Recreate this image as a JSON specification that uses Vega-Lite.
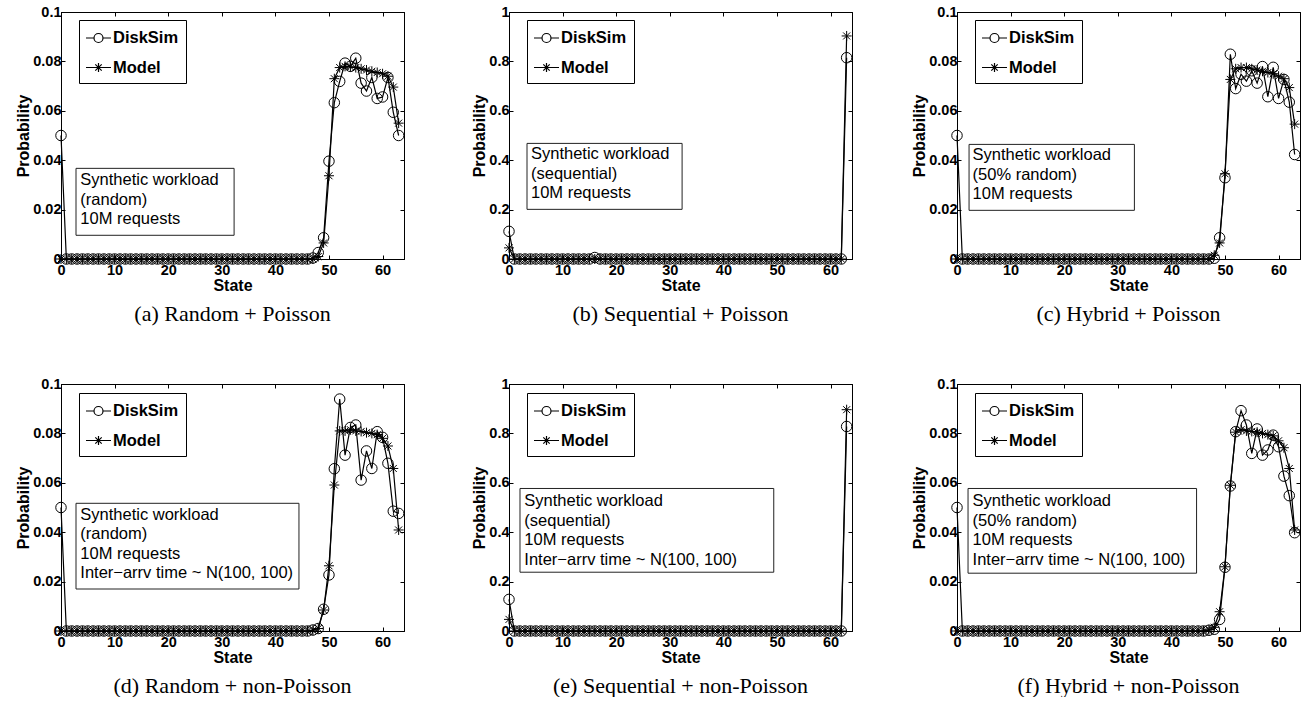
{
"$schema":"https://vega.github.io/schema/vega-lite/v6.json",
"background":"white",
"padding":{"left":15,"top":3,"right":0,"bottom":0},
"datasets":{
"a":[
{"s":0,"k":"DiskSim","v":0.05},{"s":1,"k":"DiskSim","v":0},{"s":2,"k":"DiskSim","v":0},{"s":3,"k":"DiskSim","v":0},{"s":4,"k":"DiskSim","v":0},{"s":5,"k":"DiskSim","v":0},{"s":6,"k":"DiskSim","v":0},{"s":7,"k":"DiskSim","v":0},{"s":8,"k":"DiskSim","v":0},{"s":9,"k":"DiskSim","v":0},{"s":10,"k":"DiskSim","v":0},{"s":11,"k":"DiskSim","v":0},{"s":12,"k":"DiskSim","v":0},{"s":13,"k":"DiskSim","v":0},{"s":14,"k":"DiskSim","v":0},{"s":15,"k":"DiskSim","v":0},{"s":16,"k":"DiskSim","v":0},{"s":17,"k":"DiskSim","v":0},{"s":18,"k":"DiskSim","v":0},{"s":19,"k":"DiskSim","v":0},{"s":20,"k":"DiskSim","v":0},{"s":21,"k":"DiskSim","v":0},{"s":22,"k":"DiskSim","v":0},{"s":23,"k":"DiskSim","v":0},{"s":24,"k":"DiskSim","v":0},{"s":25,"k":"DiskSim","v":0},{"s":26,"k":"DiskSim","v":0},{"s":27,"k":"DiskSim","v":0},{"s":28,"k":"DiskSim","v":0},{"s":29,"k":"DiskSim","v":0},{"s":30,"k":"DiskSim","v":0},{"s":31,"k":"DiskSim","v":0},{"s":32,"k":"DiskSim","v":0},{"s":33,"k":"DiskSim","v":0},{"s":34,"k":"DiskSim","v":0},{"s":35,"k":"DiskSim","v":0},{"s":36,"k":"DiskSim","v":0},{"s":37,"k":"DiskSim","v":0},{"s":38,"k":"DiskSim","v":0},{"s":39,"k":"DiskSim","v":0},{"s":40,"k":"DiskSim","v":0},{"s":41,"k":"DiskSim","v":0},{"s":42,"k":"DiskSim","v":0},{"s":43,"k":"DiskSim","v":0},{"s":44,"k":"DiskSim","v":0},{"s":45,"k":"DiskSim","v":0},{"s":46,"k":"DiskSim","v":0},{"s":47,"k":"DiskSim","v":0.0004},{"s":48,"k":"DiskSim","v":0.0026},{"s":49,"k":"DiskSim","v":0.0086},{"s":50,"k":"DiskSim","v":0.0396},{"s":51,"k":"DiskSim","v":0.0633},{"s":52,"k":"DiskSim","v":0.0719},{"s":53,"k":"DiskSim","v":0.0793},{"s":54,"k":"DiskSim","v":0.078},{"s":55,"k":"DiskSim","v":0.0813},{"s":56,"k":"DiskSim","v":0.0712},{"s":57,"k":"DiskSim","v":0.068},{"s":58,"k":"DiskSim","v":0.0735},{"s":59,"k":"DiskSim","v":0.065},{"s":60,"k":"DiskSim","v":0.0656},{"s":61,"k":"DiskSim","v":0.0735},{"s":62,"k":"DiskSim","v":0.0594},{"s":63,"k":"DiskSim","v":0.05},
{"s":0,"k":"Model","v":0},{"s":1,"k":"Model","v":0},{"s":2,"k":"Model","v":0},{"s":3,"k":"Model","v":0},{"s":4,"k":"Model","v":0},{"s":5,"k":"Model","v":0},{"s":6,"k":"Model","v":0},{"s":7,"k":"Model","v":0},{"s":8,"k":"Model","v":0},{"s":9,"k":"Model","v":0},{"s":10,"k":"Model","v":0},{"s":11,"k":"Model","v":0},{"s":12,"k":"Model","v":0},{"s":13,"k":"Model","v":0},{"s":14,"k":"Model","v":0},{"s":15,"k":"Model","v":0},{"s":16,"k":"Model","v":0},{"s":17,"k":"Model","v":0},{"s":18,"k":"Model","v":0},{"s":19,"k":"Model","v":0},{"s":20,"k":"Model","v":0},{"s":21,"k":"Model","v":0},{"s":22,"k":"Model","v":0},{"s":23,"k":"Model","v":0},{"s":24,"k":"Model","v":0},{"s":25,"k":"Model","v":0},{"s":26,"k":"Model","v":0},{"s":27,"k":"Model","v":0},{"s":28,"k":"Model","v":0},{"s":29,"k":"Model","v":0},{"s":30,"k":"Model","v":0},{"s":31,"k":"Model","v":0},{"s":32,"k":"Model","v":0},{"s":33,"k":"Model","v":0},{"s":34,"k":"Model","v":0},{"s":35,"k":"Model","v":0},{"s":36,"k":"Model","v":0},{"s":37,"k":"Model","v":0},{"s":38,"k":"Model","v":0},{"s":39,"k":"Model","v":0},{"s":40,"k":"Model","v":0},{"s":41,"k":"Model","v":0},{"s":42,"k":"Model","v":0},{"s":43,"k":"Model","v":0},{"s":44,"k":"Model","v":0},{"s":45,"k":"Model","v":0},{"s":46,"k":"Model","v":0},{"s":47,"k":"Model","v":0},{"s":48,"k":"Model","v":0.001},{"s":49,"k":"Model","v":0.0065},{"s":50,"k":"Model","v":0.0337},{"s":51,"k":"Model","v":0.073},{"s":52,"k":"Model","v":0.0775},{"s":53,"k":"Model","v":0.078},{"s":54,"k":"Model","v":0.0778},{"s":55,"k":"Model","v":0.0775},{"s":56,"k":"Model","v":0.077},{"s":57,"k":"Model","v":0.0765},{"s":58,"k":"Model","v":0.076},{"s":59,"k":"Model","v":0.0755},{"s":60,"k":"Model","v":0.075},{"s":61,"k":"Model","v":0.074},{"s":62,"k":"Model","v":0.0696},{"s":63,"k":"Model","v":0.055}
],
"b":[
{"s":0,"k":"DiskSim","v":0.112},{"s":1,"k":"DiskSim","v":0},{"s":2,"k":"DiskSim","v":0},{"s":3,"k":"DiskSim","v":0},{"s":4,"k":"DiskSim","v":0},{"s":5,"k":"DiskSim","v":0},{"s":6,"k":"DiskSim","v":0},{"s":7,"k":"DiskSim","v":0},{"s":8,"k":"DiskSim","v":0},{"s":9,"k":"DiskSim","v":0},{"s":10,"k":"DiskSim","v":0},{"s":11,"k":"DiskSim","v":0},{"s":12,"k":"DiskSim","v":0},{"s":13,"k":"DiskSim","v":0},{"s":14,"k":"DiskSim","v":0},{"s":15,"k":"DiskSim","v":0},{"s":16,"k":"DiskSim","v":0.006},{"s":17,"k":"DiskSim","v":0},{"s":18,"k":"DiskSim","v":0},{"s":19,"k":"DiskSim","v":0},{"s":20,"k":"DiskSim","v":0},{"s":21,"k":"DiskSim","v":0},{"s":22,"k":"DiskSim","v":0},{"s":23,"k":"DiskSim","v":0},{"s":24,"k":"DiskSim","v":0},{"s":25,"k":"DiskSim","v":0},{"s":26,"k":"DiskSim","v":0},{"s":27,"k":"DiskSim","v":0},{"s":28,"k":"DiskSim","v":0},{"s":29,"k":"DiskSim","v":0},{"s":30,"k":"DiskSim","v":0},{"s":31,"k":"DiskSim","v":0},{"s":32,"k":"DiskSim","v":0},{"s":33,"k":"DiskSim","v":0},{"s":34,"k":"DiskSim","v":0},{"s":35,"k":"DiskSim","v":0},{"s":36,"k":"DiskSim","v":0},{"s":37,"k":"DiskSim","v":0},{"s":38,"k":"DiskSim","v":0},{"s":39,"k":"DiskSim","v":0},{"s":40,"k":"DiskSim","v":0},{"s":41,"k":"DiskSim","v":0},{"s":42,"k":"DiskSim","v":0},{"s":43,"k":"DiskSim","v":0},{"s":44,"k":"DiskSim","v":0},{"s":45,"k":"DiskSim","v":0},{"s":46,"k":"DiskSim","v":0},{"s":47,"k":"DiskSim","v":0},{"s":48,"k":"DiskSim","v":0},{"s":49,"k":"DiskSim","v":0},{"s":50,"k":"DiskSim","v":0},{"s":51,"k":"DiskSim","v":0},{"s":52,"k":"DiskSim","v":0},{"s":53,"k":"DiskSim","v":0},{"s":54,"k":"DiskSim","v":0},{"s":55,"k":"DiskSim","v":0},{"s":56,"k":"DiskSim","v":0},{"s":57,"k":"DiskSim","v":0},{"s":58,"k":"DiskSim","v":0},{"s":59,"k":"DiskSim","v":0},{"s":60,"k":"DiskSim","v":0},{"s":61,"k":"DiskSim","v":0},{"s":62,"k":"DiskSim","v":0},{"s":63,"k":"DiskSim","v":0.815},
{"s":0,"k":"Model","v":0.045},{"s":1,"k":"Model","v":0},{"s":2,"k":"Model","v":0},{"s":3,"k":"Model","v":0},{"s":4,"k":"Model","v":0},{"s":5,"k":"Model","v":0},{"s":6,"k":"Model","v":0},{"s":7,"k":"Model","v":0},{"s":8,"k":"Model","v":0},{"s":9,"k":"Model","v":0},{"s":10,"k":"Model","v":0},{"s":11,"k":"Model","v":0},{"s":12,"k":"Model","v":0},{"s":13,"k":"Model","v":0},{"s":14,"k":"Model","v":0},{"s":15,"k":"Model","v":0},{"s":16,"k":"Model","v":0},{"s":17,"k":"Model","v":0},{"s":18,"k":"Model","v":0},{"s":19,"k":"Model","v":0},{"s":20,"k":"Model","v":0},{"s":21,"k":"Model","v":0},{"s":22,"k":"Model","v":0},{"s":23,"k":"Model","v":0},{"s":24,"k":"Model","v":0},{"s":25,"k":"Model","v":0},{"s":26,"k":"Model","v":0},{"s":27,"k":"Model","v":0},{"s":28,"k":"Model","v":0},{"s":29,"k":"Model","v":0},{"s":30,"k":"Model","v":0},{"s":31,"k":"Model","v":0},{"s":32,"k":"Model","v":0},{"s":33,"k":"Model","v":0},{"s":34,"k":"Model","v":0},{"s":35,"k":"Model","v":0},{"s":36,"k":"Model","v":0},{"s":37,"k":"Model","v":0},{"s":38,"k":"Model","v":0},{"s":39,"k":"Model","v":0},{"s":40,"k":"Model","v":0},{"s":41,"k":"Model","v":0},{"s":42,"k":"Model","v":0},{"s":43,"k":"Model","v":0},{"s":44,"k":"Model","v":0},{"s":45,"k":"Model","v":0},{"s":46,"k":"Model","v":0},{"s":47,"k":"Model","v":0},{"s":48,"k":"Model","v":0},{"s":49,"k":"Model","v":0},{"s":50,"k":"Model","v":0},{"s":51,"k":"Model","v":0},{"s":52,"k":"Model","v":0},{"s":53,"k":"Model","v":0},{"s":54,"k":"Model","v":0},{"s":55,"k":"Model","v":0},{"s":56,"k":"Model","v":0},{"s":57,"k":"Model","v":0},{"s":58,"k":"Model","v":0},{"s":59,"k":"Model","v":0},{"s":60,"k":"Model","v":0},{"s":61,"k":"Model","v":0},{"s":62,"k":"Model","v":0},{"s":63,"k":"Model","v":0.903}
],
"c":[
{"s":0,"k":"DiskSim","v":0.05},{"s":1,"k":"DiskSim","v":0},{"s":2,"k":"DiskSim","v":0},{"s":3,"k":"DiskSim","v":0},{"s":4,"k":"DiskSim","v":0},{"s":5,"k":"DiskSim","v":0},{"s":6,"k":"DiskSim","v":0},{"s":7,"k":"DiskSim","v":0},{"s":8,"k":"DiskSim","v":0},{"s":9,"k":"DiskSim","v":0},{"s":10,"k":"DiskSim","v":0},{"s":11,"k":"DiskSim","v":0},{"s":12,"k":"DiskSim","v":0},{"s":13,"k":"DiskSim","v":0},{"s":14,"k":"DiskSim","v":0},{"s":15,"k":"DiskSim","v":0},{"s":16,"k":"DiskSim","v":0},{"s":17,"k":"DiskSim","v":0},{"s":18,"k":"DiskSim","v":0},{"s":19,"k":"DiskSim","v":0},{"s":20,"k":"DiskSim","v":0},{"s":21,"k":"DiskSim","v":0},{"s":22,"k":"DiskSim","v":0},{"s":23,"k":"DiskSim","v":0},{"s":24,"k":"DiskSim","v":0},{"s":25,"k":"DiskSim","v":0},{"s":26,"k":"DiskSim","v":0},{"s":27,"k":"DiskSim","v":0},{"s":28,"k":"DiskSim","v":0},{"s":29,"k":"DiskSim","v":0},{"s":30,"k":"DiskSim","v":0},{"s":31,"k":"DiskSim","v":0},{"s":32,"k":"DiskSim","v":0},{"s":33,"k":"DiskSim","v":0},{"s":34,"k":"DiskSim","v":0},{"s":35,"k":"DiskSim","v":0},{"s":36,"k":"DiskSim","v":0},{"s":37,"k":"DiskSim","v":0},{"s":38,"k":"DiskSim","v":0},{"s":39,"k":"DiskSim","v":0},{"s":40,"k":"DiskSim","v":0},{"s":41,"k":"DiskSim","v":0},{"s":42,"k":"DiskSim","v":0},{"s":43,"k":"DiskSim","v":0},{"s":44,"k":"DiskSim","v":0},{"s":45,"k":"DiskSim","v":0},{"s":46,"k":"DiskSim","v":0},{"s":47,"k":"DiskSim","v":0},{"s":48,"k":"DiskSim","v":0.0003},{"s":49,"k":"DiskSim","v":0.0086},{"s":50,"k":"DiskSim","v":0.0329},{"s":51,"k":"DiskSim","v":0.0829},{"s":52,"k":"DiskSim","v":0.069},{"s":53,"k":"DiskSim","v":0.0748},{"s":54,"k":"DiskSim","v":0.072},{"s":55,"k":"DiskSim","v":0.0762},{"s":56,"k":"DiskSim","v":0.0712},{"s":57,"k":"DiskSim","v":0.0779},{"s":58,"k":"DiskSim","v":0.0657},{"s":59,"k":"DiskSim","v":0.0776},{"s":60,"k":"DiskSim","v":0.065},{"s":61,"k":"DiskSim","v":0.0727},{"s":62,"k":"DiskSim","v":0.0635},{"s":63,"k":"DiskSim","v":0.0423},
{"s":0,"k":"Model","v":0},{"s":1,"k":"Model","v":0},{"s":2,"k":"Model","v":0},{"s":3,"k":"Model","v":0},{"s":4,"k":"Model","v":0},{"s":5,"k":"Model","v":0},{"s":6,"k":"Model","v":0},{"s":7,"k":"Model","v":0},{"s":8,"k":"Model","v":0},{"s":9,"k":"Model","v":0},{"s":10,"k":"Model","v":0},{"s":11,"k":"Model","v":0},{"s":12,"k":"Model","v":0},{"s":13,"k":"Model","v":0},{"s":14,"k":"Model","v":0},{"s":15,"k":"Model","v":0},{"s":16,"k":"Model","v":0},{"s":17,"k":"Model","v":0},{"s":18,"k":"Model","v":0},{"s":19,"k":"Model","v":0},{"s":20,"k":"Model","v":0},{"s":21,"k":"Model","v":0},{"s":22,"k":"Model","v":0},{"s":23,"k":"Model","v":0},{"s":24,"k":"Model","v":0},{"s":25,"k":"Model","v":0},{"s":26,"k":"Model","v":0},{"s":27,"k":"Model","v":0},{"s":28,"k":"Model","v":0},{"s":29,"k":"Model","v":0},{"s":30,"k":"Model","v":0},{"s":31,"k":"Model","v":0},{"s":32,"k":"Model","v":0},{"s":33,"k":"Model","v":0},{"s":34,"k":"Model","v":0},{"s":35,"k":"Model","v":0},{"s":36,"k":"Model","v":0},{"s":37,"k":"Model","v":0},{"s":38,"k":"Model","v":0},{"s":39,"k":"Model","v":0},{"s":40,"k":"Model","v":0},{"s":41,"k":"Model","v":0},{"s":42,"k":"Model","v":0},{"s":43,"k":"Model","v":0},{"s":44,"k":"Model","v":0},{"s":45,"k":"Model","v":0},{"s":46,"k":"Model","v":0},{"s":47,"k":"Model","v":0},{"s":48,"k":"Model","v":0.0015},{"s":49,"k":"Model","v":0.0065},{"s":50,"k":"Model","v":0.0345},{"s":51,"k":"Model","v":0.0727},{"s":52,"k":"Model","v":0.077},{"s":53,"k":"Model","v":0.0775},{"s":54,"k":"Model","v":0.0775},{"s":55,"k":"Model","v":0.077},{"s":56,"k":"Model","v":0.0765},{"s":57,"k":"Model","v":0.076},{"s":58,"k":"Model","v":0.0755},{"s":59,"k":"Model","v":0.075},{"s":60,"k":"Model","v":0.074},{"s":61,"k":"Model","v":0.073},{"s":62,"k":"Model","v":0.0694},{"s":63,"k":"Model","v":0.0546}
],
"d":[
{"s":0,"k":"DiskSim","v":0.05},{"s":1,"k":"DiskSim","v":0},{"s":2,"k":"DiskSim","v":0},{"s":3,"k":"DiskSim","v":0},{"s":4,"k":"DiskSim","v":0},{"s":5,"k":"DiskSim","v":0},{"s":6,"k":"DiskSim","v":0},{"s":7,"k":"DiskSim","v":0},{"s":8,"k":"DiskSim","v":0},{"s":9,"k":"DiskSim","v":0},{"s":10,"k":"DiskSim","v":0},{"s":11,"k":"DiskSim","v":0},{"s":12,"k":"DiskSim","v":0},{"s":13,"k":"DiskSim","v":0},{"s":14,"k":"DiskSim","v":0},{"s":15,"k":"DiskSim","v":0},{"s":16,"k":"DiskSim","v":0},{"s":17,"k":"DiskSim","v":0},{"s":18,"k":"DiskSim","v":0},{"s":19,"k":"DiskSim","v":0},{"s":20,"k":"DiskSim","v":0},{"s":21,"k":"DiskSim","v":0},{"s":22,"k":"DiskSim","v":0},{"s":23,"k":"DiskSim","v":0},{"s":24,"k":"DiskSim","v":0},{"s":25,"k":"DiskSim","v":0},{"s":26,"k":"DiskSim","v":0},{"s":27,"k":"DiskSim","v":0},{"s":28,"k":"DiskSim","v":0},{"s":29,"k":"DiskSim","v":0},{"s":30,"k":"DiskSim","v":0},{"s":31,"k":"DiskSim","v":0},{"s":32,"k":"DiskSim","v":0},{"s":33,"k":"DiskSim","v":0},{"s":34,"k":"DiskSim","v":0},{"s":35,"k":"DiskSim","v":0},{"s":36,"k":"DiskSim","v":0},{"s":37,"k":"DiskSim","v":0},{"s":38,"k":"DiskSim","v":0},{"s":39,"k":"DiskSim","v":0},{"s":40,"k":"DiskSim","v":0},{"s":41,"k":"DiskSim","v":0},{"s":42,"k":"DiskSim","v":0},{"s":43,"k":"DiskSim","v":0},{"s":44,"k":"DiskSim","v":0},{"s":45,"k":"DiskSim","v":0},{"s":46,"k":"DiskSim","v":0},{"s":47,"k":"DiskSim","v":0.0004},{"s":48,"k":"DiskSim","v":0.001},{"s":49,"k":"DiskSim","v":0.0088},{"s":50,"k":"DiskSim","v":0.0227},{"s":51,"k":"DiskSim","v":0.0657},{"s":52,"k":"DiskSim","v":0.0939},{"s":53,"k":"DiskSim","v":0.0712},{"s":54,"k":"DiskSim","v":0.0824},{"s":55,"k":"DiskSim","v":0.0834},{"s":56,"k":"DiskSim","v":0.0611},{"s":57,"k":"DiskSim","v":0.0729},{"s":58,"k":"DiskSim","v":0.0658},{"s":59,"k":"DiskSim","v":0.0807},{"s":60,"k":"DiskSim","v":0.0784},{"s":61,"k":"DiskSim","v":0.0679},{"s":62,"k":"DiskSim","v":0.0485},{"s":63,"k":"DiskSim","v":0.0476},
{"s":0,"k":"Model","v":0},{"s":1,"k":"Model","v":0},{"s":2,"k":"Model","v":0},{"s":3,"k":"Model","v":0},{"s":4,"k":"Model","v":0},{"s":5,"k":"Model","v":0},{"s":6,"k":"Model","v":0},{"s":7,"k":"Model","v":0},{"s":8,"k":"Model","v":0},{"s":9,"k":"Model","v":0},{"s":10,"k":"Model","v":0},{"s":11,"k":"Model","v":0},{"s":12,"k":"Model","v":0},{"s":13,"k":"Model","v":0},{"s":14,"k":"Model","v":0},{"s":15,"k":"Model","v":0},{"s":16,"k":"Model","v":0},{"s":17,"k":"Model","v":0},{"s":18,"k":"Model","v":0},{"s":19,"k":"Model","v":0},{"s":20,"k":"Model","v":0},{"s":21,"k":"Model","v":0},{"s":22,"k":"Model","v":0},{"s":23,"k":"Model","v":0},{"s":24,"k":"Model","v":0},{"s":25,"k":"Model","v":0},{"s":26,"k":"Model","v":0},{"s":27,"k":"Model","v":0},{"s":28,"k":"Model","v":0},{"s":29,"k":"Model","v":0},{"s":30,"k":"Model","v":0},{"s":31,"k":"Model","v":0},{"s":32,"k":"Model","v":0},{"s":33,"k":"Model","v":0},{"s":34,"k":"Model","v":0},{"s":35,"k":"Model","v":0},{"s":36,"k":"Model","v":0},{"s":37,"k":"Model","v":0},{"s":38,"k":"Model","v":0},{"s":39,"k":"Model","v":0},{"s":40,"k":"Model","v":0},{"s":41,"k":"Model","v":0},{"s":42,"k":"Model","v":0},{"s":43,"k":"Model","v":0},{"s":44,"k":"Model","v":0},{"s":45,"k":"Model","v":0},{"s":46,"k":"Model","v":0},{"s":47,"k":"Model","v":0.0003},{"s":48,"k":"Model","v":0.001},{"s":49,"k":"Model","v":0.0085},{"s":50,"k":"Model","v":0.0264},{"s":51,"k":"Model","v":0.0591},{"s":52,"k":"Model","v":0.081},{"s":53,"k":"Model","v":0.081},{"s":54,"k":"Model","v":0.0815},{"s":55,"k":"Model","v":0.081},{"s":56,"k":"Model","v":0.0808},{"s":57,"k":"Model","v":0.0803},{"s":58,"k":"Model","v":0.08},{"s":59,"k":"Model","v":0.0795},{"s":60,"k":"Model","v":0.078},{"s":61,"k":"Model","v":0.0749},{"s":62,"k":"Model","v":0.0658},{"s":63,"k":"Model","v":0.0409}
],
"e":[
{"s":0,"k":"DiskSim","v":0.128},{"s":1,"k":"DiskSim","v":0},{"s":2,"k":"DiskSim","v":0},{"s":3,"k":"DiskSim","v":0},{"s":4,"k":"DiskSim","v":0},{"s":5,"k":"DiskSim","v":0},{"s":6,"k":"DiskSim","v":0},{"s":7,"k":"DiskSim","v":0},{"s":8,"k":"DiskSim","v":0},{"s":9,"k":"DiskSim","v":0},{"s":10,"k":"DiskSim","v":0},{"s":11,"k":"DiskSim","v":0},{"s":12,"k":"DiskSim","v":0},{"s":13,"k":"DiskSim","v":0},{"s":14,"k":"DiskSim","v":0},{"s":15,"k":"DiskSim","v":0},{"s":16,"k":"DiskSim","v":0},{"s":17,"k":"DiskSim","v":0},{"s":18,"k":"DiskSim","v":0},{"s":19,"k":"DiskSim","v":0},{"s":20,"k":"DiskSim","v":0},{"s":21,"k":"DiskSim","v":0},{"s":22,"k":"DiskSim","v":0},{"s":23,"k":"DiskSim","v":0},{"s":24,"k":"DiskSim","v":0},{"s":25,"k":"DiskSim","v":0},{"s":26,"k":"DiskSim","v":0},{"s":27,"k":"DiskSim","v":0},{"s":28,"k":"DiskSim","v":0},{"s":29,"k":"DiskSim","v":0},{"s":30,"k":"DiskSim","v":0},{"s":31,"k":"DiskSim","v":0},{"s":32,"k":"DiskSim","v":0},{"s":33,"k":"DiskSim","v":0},{"s":34,"k":"DiskSim","v":0},{"s":35,"k":"DiskSim","v":0},{"s":36,"k":"DiskSim","v":0},{"s":37,"k":"DiskSim","v":0},{"s":38,"k":"DiskSim","v":0},{"s":39,"k":"DiskSim","v":0},{"s":40,"k":"DiskSim","v":0},{"s":41,"k":"DiskSim","v":0},{"s":42,"k":"DiskSim","v":0},{"s":43,"k":"DiskSim","v":0},{"s":44,"k":"DiskSim","v":0},{"s":45,"k":"DiskSim","v":0},{"s":46,"k":"DiskSim","v":0},{"s":47,"k":"DiskSim","v":0},{"s":48,"k":"DiskSim","v":0},{"s":49,"k":"DiskSim","v":0},{"s":50,"k":"DiskSim","v":0},{"s":51,"k":"DiskSim","v":0},{"s":52,"k":"DiskSim","v":0},{"s":53,"k":"DiskSim","v":0},{"s":54,"k":"DiskSim","v":0},{"s":55,"k":"DiskSim","v":0},{"s":56,"k":"DiskSim","v":0},{"s":57,"k":"DiskSim","v":0},{"s":58,"k":"DiskSim","v":0},{"s":59,"k":"DiskSim","v":0},{"s":60,"k":"DiskSim","v":0},{"s":61,"k":"DiskSim","v":0},{"s":62,"k":"DiskSim","v":0},{"s":63,"k":"DiskSim","v":0.828},
{"s":0,"k":"Model","v":0.047},{"s":1,"k":"Model","v":0},{"s":2,"k":"Model","v":0},{"s":3,"k":"Model","v":0},{"s":4,"k":"Model","v":0},{"s":5,"k":"Model","v":0},{"s":6,"k":"Model","v":0},{"s":7,"k":"Model","v":0},{"s":8,"k":"Model","v":0},{"s":9,"k":"Model","v":0},{"s":10,"k":"Model","v":0},{"s":11,"k":"Model","v":0},{"s":12,"k":"Model","v":0},{"s":13,"k":"Model","v":0},{"s":14,"k":"Model","v":0},{"s":15,"k":"Model","v":0},{"s":16,"k":"Model","v":0},{"s":17,"k":"Model","v":0},{"s":18,"k":"Model","v":0},{"s":19,"k":"Model","v":0},{"s":20,"k":"Model","v":0},{"s":21,"k":"Model","v":0},{"s":22,"k":"Model","v":0},{"s":23,"k":"Model","v":0},{"s":24,"k":"Model","v":0},{"s":25,"k":"Model","v":0},{"s":26,"k":"Model","v":0},{"s":27,"k":"Model","v":0},{"s":28,"k":"Model","v":0},{"s":29,"k":"Model","v":0},{"s":30,"k":"Model","v":0},{"s":31,"k":"Model","v":0},{"s":32,"k":"Model","v":0},{"s":33,"k":"Model","v":0},{"s":34,"k":"Model","v":0},{"s":35,"k":"Model","v":0},{"s":36,"k":"Model","v":0},{"s":37,"k":"Model","v":0},{"s":38,"k":"Model","v":0},{"s":39,"k":"Model","v":0},{"s":40,"k":"Model","v":0},{"s":41,"k":"Model","v":0},{"s":42,"k":"Model","v":0},{"s":43,"k":"Model","v":0},{"s":44,"k":"Model","v":0},{"s":45,"k":"Model","v":0},{"s":46,"k":"Model","v":0},{"s":47,"k":"Model","v":0},{"s":48,"k":"Model","v":0},{"s":49,"k":"Model","v":0},{"s":50,"k":"Model","v":0},{"s":51,"k":"Model","v":0},{"s":52,"k":"Model","v":0},{"s":53,"k":"Model","v":0},{"s":54,"k":"Model","v":0},{"s":55,"k":"Model","v":0},{"s":56,"k":"Model","v":0},{"s":57,"k":"Model","v":0},{"s":58,"k":"Model","v":0},{"s":59,"k":"Model","v":0},{"s":60,"k":"Model","v":0},{"s":61,"k":"Model","v":0},{"s":62,"k":"Model","v":0},{"s":63,"k":"Model","v":0.896}
],
"f":[
{"s":0,"k":"DiskSim","v":0.05},{"s":1,"k":"DiskSim","v":0},{"s":2,"k":"DiskSim","v":0},{"s":3,"k":"DiskSim","v":0},{"s":4,"k":"DiskSim","v":0},{"s":5,"k":"DiskSim","v":0},{"s":6,"k":"DiskSim","v":0},{"s":7,"k":"DiskSim","v":0},{"s":8,"k":"DiskSim","v":0},{"s":9,"k":"DiskSim","v":0},{"s":10,"k":"DiskSim","v":0},{"s":11,"k":"DiskSim","v":0},{"s":12,"k":"DiskSim","v":0},{"s":13,"k":"DiskSim","v":0},{"s":14,"k":"DiskSim","v":0},{"s":15,"k":"DiskSim","v":0},{"s":16,"k":"DiskSim","v":0},{"s":17,"k":"DiskSim","v":0},{"s":18,"k":"DiskSim","v":0},{"s":19,"k":"DiskSim","v":0},{"s":20,"k":"DiskSim","v":0},{"s":21,"k":"DiskSim","v":0},{"s":22,"k":"DiskSim","v":0},{"s":23,"k":"DiskSim","v":0},{"s":24,"k":"DiskSim","v":0},{"s":25,"k":"DiskSim","v":0},{"s":26,"k":"DiskSim","v":0},{"s":27,"k":"DiskSim","v":0},{"s":28,"k":"DiskSim","v":0},{"s":29,"k":"DiskSim","v":0},{"s":30,"k":"DiskSim","v":0},{"s":31,"k":"DiskSim","v":0},{"s":32,"k":"DiskSim","v":0},{"s":33,"k":"DiskSim","v":0},{"s":34,"k":"DiskSim","v":0},{"s":35,"k":"DiskSim","v":0},{"s":36,"k":"DiskSim","v":0},{"s":37,"k":"DiskSim","v":0},{"s":38,"k":"DiskSim","v":0},{"s":39,"k":"DiskSim","v":0},{"s":40,"k":"DiskSim","v":0},{"s":41,"k":"DiskSim","v":0},{"s":42,"k":"DiskSim","v":0},{"s":43,"k":"DiskSim","v":0},{"s":44,"k":"DiskSim","v":0},{"s":45,"k":"DiskSim","v":0},{"s":46,"k":"DiskSim","v":0},{"s":47,"k":"DiskSim","v":0.0003},{"s":48,"k":"DiskSim","v":0.0007},{"s":49,"k":"DiskSim","v":0.0047},{"s":50,"k":"DiskSim","v":0.0258},{"s":51,"k":"DiskSim","v":0.0587},{"s":52,"k":"DiskSim","v":0.0807},{"s":53,"k":"DiskSim","v":0.0892},{"s":54,"k":"DiskSim","v":0.0834},{"s":55,"k":"DiskSim","v":0.0719},{"s":56,"k":"DiskSim","v":0.0818},{"s":57,"k":"DiskSim","v":0.0712},{"s":58,"k":"DiskSim","v":0.0733},{"s":59,"k":"DiskSim","v":0.0793},{"s":60,"k":"DiskSim","v":0.0746},{"s":61,"k":"DiskSim","v":0.0627},{"s":62,"k":"DiskSim","v":0.0548},{"s":63,"k":"DiskSim","v":0.0398},
{"s":0,"k":"Model","v":0},{"s":1,"k":"Model","v":0},{"s":2,"k":"Model","v":0},{"s":3,"k":"Model","v":0},{"s":4,"k":"Model","v":0},{"s":5,"k":"Model","v":0},{"s":6,"k":"Model","v":0},{"s":7,"k":"Model","v":0},{"s":8,"k":"Model","v":0},{"s":9,"k":"Model","v":0},{"s":10,"k":"Model","v":0},{"s":11,"k":"Model","v":0},{"s":12,"k":"Model","v":0},{"s":13,"k":"Model","v":0},{"s":14,"k":"Model","v":0},{"s":15,"k":"Model","v":0},{"s":16,"k":"Model","v":0},{"s":17,"k":"Model","v":0},{"s":18,"k":"Model","v":0},{"s":19,"k":"Model","v":0},{"s":20,"k":"Model","v":0},{"s":21,"k":"Model","v":0},{"s":22,"k":"Model","v":0},{"s":23,"k":"Model","v":0},{"s":24,"k":"Model","v":0},{"s":25,"k":"Model","v":0},{"s":26,"k":"Model","v":0},{"s":27,"k":"Model","v":0},{"s":28,"k":"Model","v":0},{"s":29,"k":"Model","v":0},{"s":30,"k":"Model","v":0},{"s":31,"k":"Model","v":0},{"s":32,"k":"Model","v":0},{"s":33,"k":"Model","v":0},{"s":34,"k":"Model","v":0},{"s":35,"k":"Model","v":0},{"s":36,"k":"Model","v":0},{"s":37,"k":"Model","v":0},{"s":38,"k":"Model","v":0},{"s":39,"k":"Model","v":0},{"s":40,"k":"Model","v":0},{"s":41,"k":"Model","v":0},{"s":42,"k":"Model","v":0},{"s":43,"k":"Model","v":0},{"s":44,"k":"Model","v":0},{"s":45,"k":"Model","v":0},{"s":46,"k":"Model","v":0},{"s":47,"k":"Model","v":0.0005},{"s":48,"k":"Model","v":0.0015},{"s":49,"k":"Model","v":0.0078},{"s":50,"k":"Model","v":0.026},{"s":51,"k":"Model","v":0.059},{"s":52,"k":"Model","v":0.0805},{"s":53,"k":"Model","v":0.0815},{"s":54,"k":"Model","v":0.081},{"s":55,"k":"Model","v":0.0808},{"s":56,"k":"Model","v":0.0805},{"s":57,"k":"Model","v":0.08},{"s":58,"k":"Model","v":0.0795},{"s":59,"k":"Model","v":0.079},{"s":60,"k":"Model","v":0.077},{"s":61,"k":"Model","v":0.0742},{"s":62,"k":"Model","v":0.0658},{"s":63,"k":"Model","v":0.0409}
]
},
"columns":3,
"spacing":{"row":125,"column":105},
"bounds":"flush",
"concat":[
{"width":343,"height":247,"data":{"name":"a"},"title":{"text":"(a) Random + Poisson"},
"layer":[
{"mark":{"type":"line","color":"black","strokeWidth":1.2},"encoding":{"x":{"field":"s","type":"quantitative","scale":{"domain":[0,64],"nice":false},"axis":{"values":[0,10,20,30,40,50,60],"title":"State"}},"y":{"field":"v","type":"quantitative","scale":{"domain":[0,0.1],"nice":false},"axis":{"values":[0,0.02,0.04,0.06,0.08,0.1],"format":"~g","title":"Probability"}},"detail":{"field":"k","type":"nominal"}}},
{"transform":[{"filter":"datum.k === 'DiskSim'"}],"mark":{"type":"point","shape":"circle","color":"black","filled":false,"strokeWidth":1,"size":110,"opacity":1},"encoding":{"x":{"field":"s","type":"quantitative","axis":{"orient":"top","labels":false,"title":null,"values":[0,10,20,30,40,50,60]}},"y":{"field":"v","type":"quantitative","axis":{"orient":"right","labels":false,"title":null,"values":[0,0.02,0.04,0.06,0.08,0.1]}}}},
{"transform":[{"filter":"datum.k === 'Model'"}],"mark":{"type":"point","shape":"M0,-1L0,1M-1,0L1,0M-0.7,-0.7L0.7,0.7M-0.7,0.7L0.7,-0.7","color":"black","filled":false,"strokeWidth":1,"size":100,"opacity":1},"encoding":{"x":{"field":"s","type":"quantitative","axis":null},"y":{"field":"v","type":"quantitative","axis":null}}},
{"transform":[{"filter":"datum.s === 0"}],"mark":{"type":"point","color":"black","filled":false,"opacity":0},"encoding":{"x":{"field":"s","type":"quantitative","axis":null},"y":{"field":"v","type":"quantitative","axis":null},"shape":{"field":"k","type":"nominal","scale":{"domain":["DiskSim","Model"],"range":["M-1.1,0L-0.3,0M0.6,0L1.4,0M0.6,0A0.45,0.45,0,1,1,-0.3,0A0.45,0.45,0,1,1,0.6,0","M-1.1,0L1.4,0M0.15,-0.45L0.15,0.45M-0.17,-0.32L0.47,0.32M-0.17,0.32L0.47,-0.32"]},"legend":{"title":null,"legendX":18,"legendY":8,"symbolOpacity":1,"labelFont":"Liberation Sans","labelFontSize":16.5,"labelFontWeight":"bold","labelColor":"black","labelOffset":5,"padding":7,"rowPadding":9.5,"symbolSize":400,"symbolStrokeWidth":1.2,"symbolStrokeColor":"black","strokeColor":"black","fillColor":"white"}}}},
{"data":{"values":[{}]},"mark":{"type":"rect","fill":"white","stroke":"#222","strokeWidth":1},"encoding":{"x":{"datum":2.8,"type":"quantitative","axis":null},"x2":{"datum":32.3},"y":{"datum":0.0367,"type":"quantitative","axis":null},"y2":{"datum":0.0096}}},
{"data":{"values":[{}]},"mark":{"type":"text","text":["Synthetic workload","(random)","10M requests"],"align":"left","baseline":"top","font":"Liberation Sans","fontSize":16.5,"lineHeight":19.5,"color":"black"},"encoding":{"x":{"datum":3.6,"type":"quantitative","axis":null},"y":{"datum":0.0351,"type":"quantitative","axis":null}}}
],
"resolve":{"axis":{"x":"independent","y":"independent"}}},
{"width":343,"height":247,"data":{"name":"b"},"title":{"text":"(b) Sequential + Poisson"},
"layer":[
{"mark":{"type":"line","color":"black","strokeWidth":1.2},"encoding":{"x":{"field":"s","type":"quantitative","scale":{"domain":[0,64],"nice":false},"axis":{"values":[0,10,20,30,40,50,60],"title":"State"}},"y":{"field":"v","type":"quantitative","scale":{"domain":[0,1],"nice":false},"axis":{"values":[0,0.2,0.4,0.6,0.8,1],"format":"~g","title":"Probability"}},"detail":{"field":"k","type":"nominal"}}},
{"transform":[{"filter":"datum.k === 'DiskSim'"}],"mark":{"type":"point","shape":"circle","color":"black","filled":false,"strokeWidth":1,"size":110,"opacity":1},"encoding":{"x":{"field":"s","type":"quantitative","axis":{"orient":"top","labels":false,"title":null,"values":[0,10,20,30,40,50,60]}},"y":{"field":"v","type":"quantitative","axis":{"orient":"right","labels":false,"title":null,"values":[0,0.2,0.4,0.6,0.8,1]}}}},
{"transform":[{"filter":"datum.k === 'Model'"}],"mark":{"type":"point","shape":"M0,-1L0,1M-1,0L1,0M-0.7,-0.7L0.7,0.7M-0.7,0.7L0.7,-0.7","color":"black","filled":false,"strokeWidth":1,"size":100,"opacity":1},"encoding":{"x":{"field":"s","type":"quantitative","axis":null},"y":{"field":"v","type":"quantitative","axis":null}}},
{"transform":[{"filter":"datum.s === 0"}],"mark":{"type":"point","color":"black","filled":false,"opacity":0},"encoding":{"x":{"field":"s","type":"quantitative","axis":null},"y":{"field":"v","type":"quantitative","axis":null},"shape":{"field":"k","type":"nominal","scale":{"domain":["DiskSim","Model"],"range":["M-1.1,0L-0.3,0M0.6,0L1.4,0M0.6,0A0.45,0.45,0,1,1,-0.3,0A0.45,0.45,0,1,1,0.6,0","M-1.1,0L1.4,0M0.15,-0.45L0.15,0.45M-0.17,-0.32L0.47,0.32M-0.17,0.32L0.47,-0.32"]},"legend":{"title":null,"legendX":18,"legendY":8,"symbolOpacity":1,"labelFont":"Liberation Sans","labelFontSize":16.5,"labelFontWeight":"bold","labelColor":"black","labelOffset":5,"padding":7,"rowPadding":9.5,"symbolSize":400,"symbolStrokeWidth":1.2,"symbolStrokeColor":"black","strokeColor":"black","fillColor":"white"}}}},
{"data":{"values":[{}]},"mark":{"type":"rect","fill":"white","stroke":"#222","strokeWidth":1},"encoding":{"x":{"datum":3.36,"type":"quantitative","axis":null},"x2":{"datum":32.3},"y":{"datum":0.468,"type":"quantitative","axis":null},"y2":{"datum":0.201}}},
{"data":{"values":[{}]},"mark":{"type":"text","text":["Synthetic workload","(sequential)","10M requests"],"align":"left","baseline":"top","font":"Liberation Sans","fontSize":16.5,"lineHeight":19.5,"color":"black"},"encoding":{"x":{"datum":4.1,"type":"quantitative","axis":null},"y":{"datum":0.456,"type":"quantitative","axis":null}}}
],
"resolve":{"axis":{"x":"independent","y":"independent"}}},
{"width":343,"height":247,"data":{"name":"c"},"title":{"text":"(c) Hybrid + Poisson"},
"layer":[
{"mark":{"type":"line","color":"black","strokeWidth":1.2},"encoding":{"x":{"field":"s","type":"quantitative","scale":{"domain":[0,64],"nice":false},"axis":{"values":[0,10,20,30,40,50,60],"title":"State"}},"y":{"field":"v","type":"quantitative","scale":{"domain":[0,0.1],"nice":false},"axis":{"values":[0,0.02,0.04,0.06,0.08,0.1],"format":"~g","title":"Probability"}},"detail":{"field":"k","type":"nominal"}}},
{"transform":[{"filter":"datum.k === 'DiskSim'"}],"mark":{"type":"point","shape":"circle","color":"black","filled":false,"strokeWidth":1,"size":110,"opacity":1},"encoding":{"x":{"field":"s","type":"quantitative","axis":{"orient":"top","labels":false,"title":null,"values":[0,10,20,30,40,50,60]}},"y":{"field":"v","type":"quantitative","axis":{"orient":"right","labels":false,"title":null,"values":[0,0.02,0.04,0.06,0.08,0.1]}}}},
{"transform":[{"filter":"datum.k === 'Model'"}],"mark":{"type":"point","shape":"M0,-1L0,1M-1,0L1,0M-0.7,-0.7L0.7,0.7M-0.7,0.7L0.7,-0.7","color":"black","filled":false,"strokeWidth":1,"size":100,"opacity":1},"encoding":{"x":{"field":"s","type":"quantitative","axis":null},"y":{"field":"v","type":"quantitative","axis":null}}},
{"transform":[{"filter":"datum.s === 0"}],"mark":{"type":"point","color":"black","filled":false,"opacity":0},"encoding":{"x":{"field":"s","type":"quantitative","axis":null},"y":{"field":"v","type":"quantitative","axis":null},"shape":{"field":"k","type":"nominal","scale":{"domain":["DiskSim","Model"],"range":["M-1.1,0L-0.3,0M0.6,0L1.4,0M0.6,0A0.45,0.45,0,1,1,-0.3,0A0.45,0.45,0,1,1,0.6,0","M-1.1,0L1.4,0M0.15,-0.45L0.15,0.45M-0.17,-0.32L0.47,0.32M-0.17,0.32L0.47,-0.32"]},"legend":{"title":null,"legendX":18,"legendY":8,"symbolOpacity":1,"labelFont":"Liberation Sans","labelFontSize":16.5,"labelFontWeight":"bold","labelColor":"black","labelOffset":5,"padding":7,"rowPadding":9.5,"symbolSize":400,"symbolStrokeWidth":1.2,"symbolStrokeColor":"black","strokeColor":"black","fillColor":"white"}}}},
{"data":{"values":[{}]},"mark":{"type":"rect","fill":"white","stroke":"#222","strokeWidth":1},"encoding":{"x":{"datum":2.25,"type":"quantitative","axis":null},"x2":{"datum":33.1},"y":{"datum":0.0464,"type":"quantitative","axis":null},"y2":{"datum":0.0197}}},
{"data":{"values":[{}]},"mark":{"type":"text","text":["Synthetic workload","(50% random)","10M requests"],"align":"left","baseline":"top","font":"Liberation Sans","fontSize":16.5,"lineHeight":19.5,"color":"black"},"encoding":{"x":{"datum":2.9,"type":"quantitative","axis":null},"y":{"datum":0.0452,"type":"quantitative","axis":null}}}
],
"resolve":{"axis":{"x":"independent","y":"independent"}}},
{"width":343,"height":247,"data":{"name":"d"},"title":{"text":"(d) Random + non-Poisson"},
"layer":[
{"mark":{"type":"line","color":"black","strokeWidth":1.2},"encoding":{"x":{"field":"s","type":"quantitative","scale":{"domain":[0,64],"nice":false},"axis":{"values":[0,10,20,30,40,50,60],"title":"State"}},"y":{"field":"v","type":"quantitative","scale":{"domain":[0,0.1],"nice":false},"axis":{"values":[0,0.02,0.04,0.06,0.08,0.1],"format":"~g","title":"Probability"}},"detail":{"field":"k","type":"nominal"}}},
{"transform":[{"filter":"datum.k === 'DiskSim'"}],"mark":{"type":"point","shape":"circle","color":"black","filled":false,"strokeWidth":1,"size":110,"opacity":1},"encoding":{"x":{"field":"s","type":"quantitative","axis":{"orient":"top","labels":false,"title":null,"values":[0,10,20,30,40,50,60]}},"y":{"field":"v","type":"quantitative","axis":{"orient":"right","labels":false,"title":null,"values":[0,0.02,0.04,0.06,0.08,0.1]}}}},
{"transform":[{"filter":"datum.k === 'Model'"}],"mark":{"type":"point","shape":"M0,-1L0,1M-1,0L1,0M-0.7,-0.7L0.7,0.7M-0.7,0.7L0.7,-0.7","color":"black","filled":false,"strokeWidth":1,"size":100,"opacity":1},"encoding":{"x":{"field":"s","type":"quantitative","axis":null},"y":{"field":"v","type":"quantitative","axis":null}}},
{"transform":[{"filter":"datum.s === 0"}],"mark":{"type":"point","color":"black","filled":false,"opacity":0},"encoding":{"x":{"field":"s","type":"quantitative","axis":null},"y":{"field":"v","type":"quantitative","axis":null},"shape":{"field":"k","type":"nominal","scale":{"domain":["DiskSim","Model"],"range":["M-1.1,0L-0.3,0M0.6,0L1.4,0M0.6,0A0.45,0.45,0,1,1,-0.3,0A0.45,0.45,0,1,1,0.6,0","M-1.1,0L1.4,0M0.15,-0.45L0.15,0.45M-0.17,-0.32L0.47,0.32M-0.17,0.32L0.47,-0.32"]},"legend":{"title":null,"legendX":18,"legendY":9,"symbolOpacity":1,"labelFont":"Liberation Sans","labelFontSize":16.5,"labelFontWeight":"bold","labelColor":"black","labelOffset":5,"padding":7,"rowPadding":9.5,"symbolSize":400,"symbolStrokeWidth":1.2,"symbolStrokeColor":"black","strokeColor":"black","fillColor":"white"}}}},
{"data":{"values":[{}]},"mark":{"type":"rect","fill":"white","stroke":"#222","strokeWidth":1},"encoding":{"x":{"datum":2.8,"type":"quantitative","axis":null},"x2":{"datum":44.4},"y":{"datum":0.0517,"type":"quantitative","axis":null},"y2":{"datum":0.017}}},
{"data":{"values":[{}]},"mark":{"type":"text","text":["Synthetic workload","(random)","10M requests","Inter−arrv time ~ N(100, 100)"],"align":"left","baseline":"top","font":"Liberation Sans","fontSize":16.5,"lineHeight":19.5,"color":"black"},"encoding":{"x":{"datum":3.6,"type":"quantitative","axis":null},"y":{"datum":0.0503,"type":"quantitative","axis":null}}}
],
"resolve":{"axis":{"x":"independent","y":"independent"}}},
{"width":343,"height":247,"data":{"name":"e"},"title":{"text":"(e) Sequential + non-Poisson"},
"layer":[
{"mark":{"type":"line","color":"black","strokeWidth":1.2},"encoding":{"x":{"field":"s","type":"quantitative","scale":{"domain":[0,64],"nice":false},"axis":{"values":[0,10,20,30,40,50,60],"title":"State"}},"y":{"field":"v","type":"quantitative","scale":{"domain":[0,1],"nice":false},"axis":{"values":[0,0.2,0.4,0.6,0.8,1],"format":"~g","title":"Probability"}},"detail":{"field":"k","type":"nominal"}}},
{"transform":[{"filter":"datum.k === 'DiskSim'"}],"mark":{"type":"point","shape":"circle","color":"black","filled":false,"strokeWidth":1,"size":110,"opacity":1},"encoding":{"x":{"field":"s","type":"quantitative","axis":{"orient":"top","labels":false,"title":null,"values":[0,10,20,30,40,50,60]}},"y":{"field":"v","type":"quantitative","axis":{"orient":"right","labels":false,"title":null,"values":[0,0.2,0.4,0.6,0.8,1]}}}},
{"transform":[{"filter":"datum.k === 'Model'"}],"mark":{"type":"point","shape":"M0,-1L0,1M-1,0L1,0M-0.7,-0.7L0.7,0.7M-0.7,0.7L0.7,-0.7","color":"black","filled":false,"strokeWidth":1,"size":100,"opacity":1},"encoding":{"x":{"field":"s","type":"quantitative","axis":null},"y":{"field":"v","type":"quantitative","axis":null}}},
{"transform":[{"filter":"datum.s === 0"}],"mark":{"type":"point","color":"black","filled":false,"opacity":0},"encoding":{"x":{"field":"s","type":"quantitative","axis":null},"y":{"field":"v","type":"quantitative","axis":null},"shape":{"field":"k","type":"nominal","scale":{"domain":["DiskSim","Model"],"range":["M-1.1,0L-0.3,0M0.6,0L1.4,0M0.6,0A0.45,0.45,0,1,1,-0.3,0A0.45,0.45,0,1,1,0.6,0","M-1.1,0L1.4,0M0.15,-0.45L0.15,0.45M-0.17,-0.32L0.47,0.32M-0.17,0.32L0.47,-0.32"]},"legend":{"title":null,"legendX":18,"legendY":9,"symbolOpacity":1,"labelFont":"Liberation Sans","labelFontSize":16.5,"labelFontWeight":"bold","labelColor":"black","labelOffset":5,"padding":7,"rowPadding":9.5,"symbolSize":400,"symbolStrokeWidth":1.2,"symbolStrokeColor":"black","strokeColor":"black","fillColor":"white"}}}},
{"data":{"values":[{}]},"mark":{"type":"rect","fill":"white","stroke":"#222","strokeWidth":1},"encoding":{"x":{"datum":2.05,"type":"quantitative","axis":null},"x2":{"datum":49.4},"y":{"datum":0.577,"type":"quantitative","axis":null},"y2":{"datum":0.238}}},
{"data":{"values":[{}]},"mark":{"type":"text","text":["Synthetic workload","(sequential)","10M requests","Inter−arrv time ~ N(100, 100)"],"align":"left","baseline":"top","font":"Liberation Sans","fontSize":16.5,"lineHeight":19.5,"color":"black"},"encoding":{"x":{"datum":2.86,"type":"quantitative","axis":null},"y":{"datum":0.558,"type":"quantitative","axis":null}}}
],
"resolve":{"axis":{"x":"independent","y":"independent"}}},
{"width":343,"height":247,"data":{"name":"f"},"title":{"text":"(f) Hybrid + non-Poisson"},
"layer":[
{"mark":{"type":"line","color":"black","strokeWidth":1.2},"encoding":{"x":{"field":"s","type":"quantitative","scale":{"domain":[0,64],"nice":false},"axis":{"values":[0,10,20,30,40,50,60],"title":"State"}},"y":{"field":"v","type":"quantitative","scale":{"domain":[0,0.1],"nice":false},"axis":{"values":[0,0.02,0.04,0.06,0.08,0.1],"format":"~g","title":"Probability"}},"detail":{"field":"k","type":"nominal"}}},
{"transform":[{"filter":"datum.k === 'DiskSim'"}],"mark":{"type":"point","shape":"circle","color":"black","filled":false,"strokeWidth":1,"size":110,"opacity":1},"encoding":{"x":{"field":"s","type":"quantitative","axis":{"orient":"top","labels":false,"title":null,"values":[0,10,20,30,40,50,60]}},"y":{"field":"v","type":"quantitative","axis":{"orient":"right","labels":false,"title":null,"values":[0,0.02,0.04,0.06,0.08,0.1]}}}},
{"transform":[{"filter":"datum.k === 'Model'"}],"mark":{"type":"point","shape":"M0,-1L0,1M-1,0L1,0M-0.7,-0.7L0.7,0.7M-0.7,0.7L0.7,-0.7","color":"black","filled":false,"strokeWidth":1,"size":100,"opacity":1},"encoding":{"x":{"field":"s","type":"quantitative","axis":null},"y":{"field":"v","type":"quantitative","axis":null}}},
{"transform":[{"filter":"datum.s === 0"}],"mark":{"type":"point","color":"black","filled":false,"opacity":0},"encoding":{"x":{"field":"s","type":"quantitative","axis":null},"y":{"field":"v","type":"quantitative","axis":null},"shape":{"field":"k","type":"nominal","scale":{"domain":["DiskSim","Model"],"range":["M-1.1,0L-0.3,0M0.6,0L1.4,0M0.6,0A0.45,0.45,0,1,1,-0.3,0A0.45,0.45,0,1,1,0.6,0","M-1.1,0L1.4,0M0.15,-0.45L0.15,0.45M-0.17,-0.32L0.47,0.32M-0.17,0.32L0.47,-0.32"]},"legend":{"title":null,"legendX":18,"legendY":9,"symbolOpacity":1,"labelFont":"Liberation Sans","labelFontSize":16.5,"labelFontWeight":"bold","labelColor":"black","labelOffset":5,"padding":7,"rowPadding":9.5,"symbolSize":400,"symbolStrokeWidth":1.2,"symbolStrokeColor":"black","strokeColor":"black","fillColor":"white"}}}},
{"data":{"values":[{}]},"mark":{"type":"rect","fill":"white","stroke":"#222","strokeWidth":1},"encoding":{"x":{"datum":2.06,"type":"quantitative","axis":null},"x2":{"datum":44.7},"y":{"datum":0.0577,"type":"quantitative","axis":null},"y2":{"datum":0.0234}}},
{"data":{"values":[{}]},"mark":{"type":"text","text":["Synthetic workload","(50% random)","10M requests","Inter−arrv time ~ N(100, 100)"],"align":"left","baseline":"top","font":"Liberation Sans","fontSize":16.5,"lineHeight":19.5,"color":"black"},"encoding":{"x":{"datum":2.9,"type":"quantitative","axis":null},"y":{"datum":0.0558,"type":"quantitative","axis":null}}}
],
"resolve":{"axis":{"x":"independent","y":"independent"}}}
],
"resolve":{"scale":{"x":"independent","y":"independent","shape":"independent"},"legend":{"shape":"independent"}},
"config":{
"view":{"stroke":"black","strokeWidth":1},
"axis":{"grid":false,"domainColor":"black","domainWidth":1,"tickColor":"black","tickSize":-4,"tickWidth":1,"labelColor":"black","labelFont":"Liberation Sans","labelFontWeight":"bold","labelFontSize":14.5,"labelFlush":false,"labelOverlap":false,"titleColor":"black","titleFont":"Liberation Sans","titleFontWeight":"bold","titleFontSize":16,"titlePadding":1},
"axisX":{"labelPadding":8},
"axisY":{"labelPadding":4},
"legend":{"orient":"none","strokeColor":"black","fillColor":"white","padding":7,"rowPadding":9.5,"symbolSize":400,"symbolOpacity":1,"symbolStrokeWidth":1.2,"symbolStrokeColor":"black","labelFont":"Liberation Sans","labelFontSize":16.5,"labelFontWeight":"bold","labelColor":"black","labelOffset":5},
"title":{"font":"Liberation Serif","fontSize":22,"fontWeight":"normal","color":"black","orient":"bottom","anchor":"middle","frame":"group","offset":10}
}
}
